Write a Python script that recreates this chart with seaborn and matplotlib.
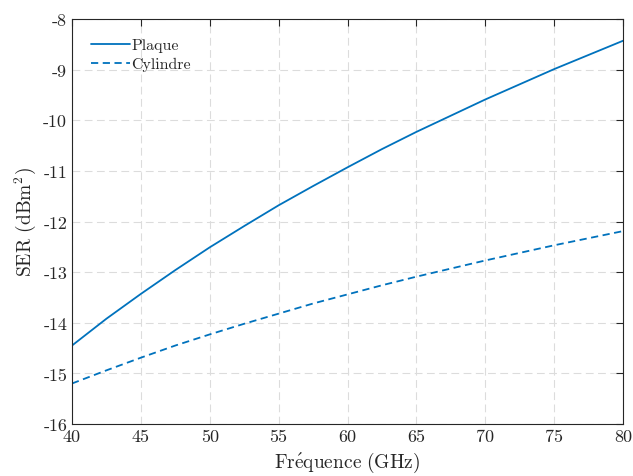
import matplotlib
matplotlib.use("Agg")
import matplotlib.pyplot as plt
import seaborn as sns
import pandas as pd

# frequencies (GHz) and RCS values
freq = [40, 42.5, 45, 47.5, 50, 52.5, 55, 57.5, 60, 62.5, 65, 67.5, 70, 72.5, 75, 77.5, 80]
plaque = [-14.45, -13.92, -13.43, -12.96, -12.51, -12.09, -11.68, -11.30, -10.93,
          -10.57, -10.23, -9.91, -9.59, -9.29, -8.99, -8.71, -8.43]
cylindre = [-15.20, -14.94, -14.69, -14.45, -14.23, -14.02, -13.82, -13.62, -13.44,
            -13.26, -13.09, -12.93, -12.77, -12.62, -12.47, -12.33, -12.19]

df = pd.DataFrame({
    "f": freq * 2,
    "ser": plaque + cylindre,
    "forme": ["Plaque"] * len(freq) + ["Cylindre"] * len(freq),
})

sns.set_style("white")
plt.rcParams["font.family"] = "cmr10"
plt.rcParams["mathtext.fontset"] = "cm"
plt.rcParams["axes.unicode_minus"] = False
plt.rcParams["axes.formatter.use_mathtext"] = True

dark = "#262626"
blue = "#0072BD"

fig = plt.figure(figsize=(6.33, 4.77), dpi=100)
ax = fig.add_axes([72 / 633, 1 - 425 / 477, (623 - 72) / 633, (425 - 20) / 477])

sns.lineplot(data=df, x="f", y="ser", style="forme", color=blue, linewidth=1.3,
             dashes={"Plaque": "", "Cylindre": (4, 2.5)}, ax=ax)

ax.set_xlim(40, 80)
ax.set_ylim(-16, -8)
ax.set_xticks(range(40, 81, 5))
ax.set_yticks(range(-16, -7, 1))
ax.set_xticklabels([str(v) for v in range(40, 81, 5)])
ax.set_yticklabels([str(v) for v in range(-16, -7, 1)])
ax.grid(True, linestyle=(0, (7, 4)), color="#dcdcdc", linewidth=0.8)
ax.tick_params(direction="in", top=True, right=True, length=5, width=0.8,
               colors=dark, labelsize=13)
for s in ax.spines.values():
    s.set_color(dark)
    s.set_linewidth(0.8)

ax.set_xlabel(r"$\mathrm{Fr\acute{e}quence\ (GHz)}$", fontsize=14, color=dark, labelpad=4)
ax.set_ylabel(r"SER (dBm$^2$)", fontsize=14, color=dark, labelpad=4)

leg = ax.legend(loc="upper left", frameon=False, fontsize=11.5, handlelength=2.4,
                handletextpad=0.1, borderaxespad=0.8, labelspacing=0.3)
for t in leg.get_texts():
    t.set_color(dark)

fig.savefig("out.png", dpi=100)
